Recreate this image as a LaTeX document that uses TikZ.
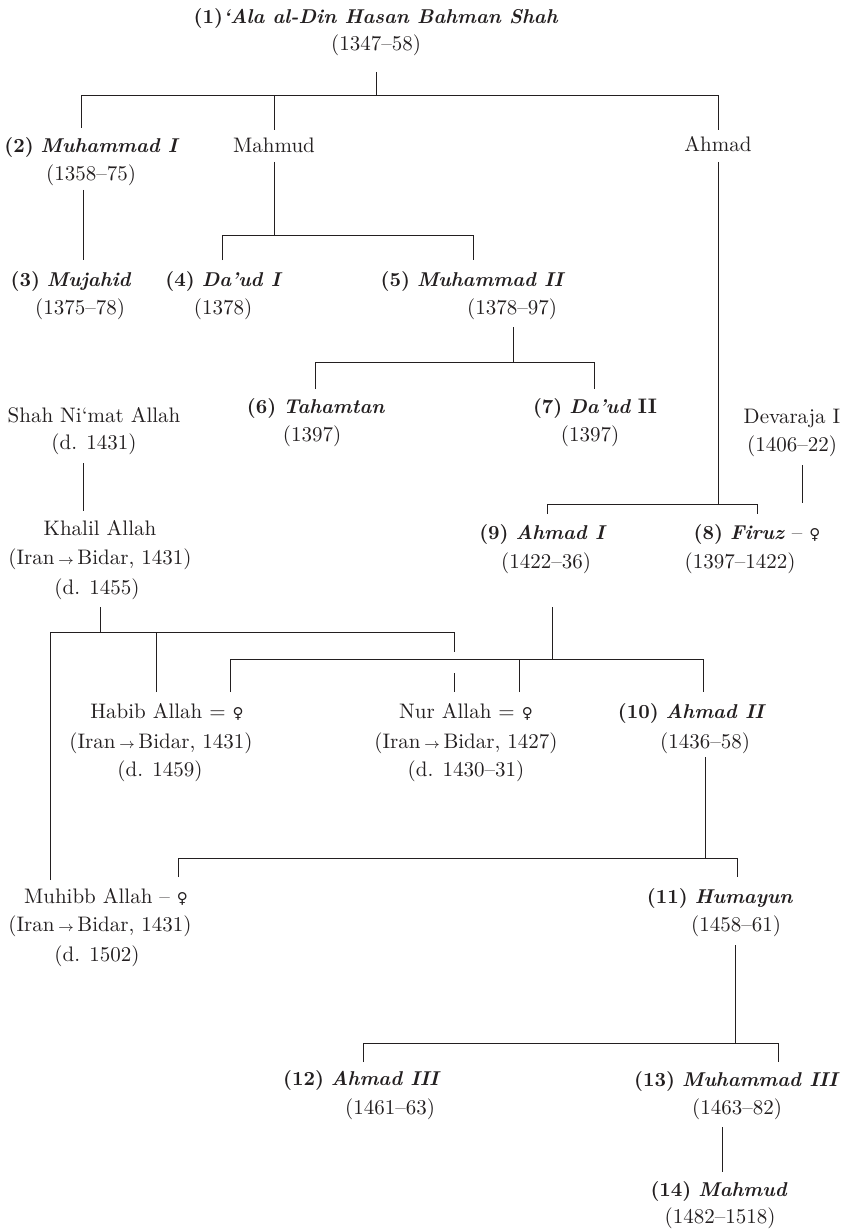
\documentclass[tikz,border=0pt]{standalone}
\usepackage{fontspec}
\newfontfamily\symbfont{DejaVu Sans}
\definecolor{ink}{HTML}{231F20}
\newcommand{\rno}[1]{{\fontsize{10}{12}\selectfont\textbf{(#1)}}}
\newcommand{\kname}[1]{{\fontsize{10}{12}\selectfont\textbf{\textit{#1}}}}
\newcommand{\fem}{{\symbfont\fontsize{7.5}{9}\selectfont ♀}}
\newcommand{\toward}{\,$\scriptstyle\rightarrow$\,}

\begin{document}
\begin{tikzpicture}[x=0.5pt, y=-0.5pt,
  who/.style={anchor=base, inner sep=0pt, text=ink, font=\fontsize{10.5}{12}\selectfont},
  kin/.style={draw=ink, line width=0.5pt}]

\useasboundingbox (0,0) rectangle (843,1230);

\node[who] (root) at (376,24) {\rno{1}\kname{‘Ala al-Din Hasan Bahman Shah}};
\node[who] (root-d) at (376,51) {(1347–58)};

\node[who] (muh1) at (92,153) {\rno{2} \kname{Muhammad I}};
\node[who] (muh1-d) at (91,181) {(1358–75)};
\node[who] (mahmud) at (274,153) {Mahmud};
\node[who] (ahmad) at (718,152) {Ahmad};

\node[who] (mujahid) at (71,286) {\rno{3} \kname{Mujahid}};
\node[who] (mujahid-d) at (80,314) {(1375–78)};
\node[who] (daud1) at (224,286) {\rno{4} \kname{Da’ud I}};
\node[who] (daud1-d) at (223,314) {(1378)};
\node[who] (muh2) at (473,286) {\rno{5} \kname{Muhammad II}};
\node[who] (muh2-d) at (512,314) {(1378–97)};

\node[who] (taham) at (316,413) {\rno{6} \kname{Tahamtan}};
\node[who] (taham-d) at (312,441) {(1397)};
\node[who] (daud2) at (595,413) {\rno{7} \kname{Da’ud} \textbf{II}};
\node[who] (daud2-d) at (590,441) {(1397)};
\node[who] (shah) at (94,422) {Shah Ni‘mat Allah};
\node[who] (shah-d) at (94,449) {(d. 1431)};
\node[who] (deva) at (792,423) {Devaraja I};
\node[who] (deva-d) at (792,451) {(1406–22)};

\node[who] (khalil) at (100,535) {Khalil Allah};
\node[who] (khalil-m) at (100,564) {(Iran\toward Bidar, 1431)};
\node[who] (khalil-d) at (97,594) {(d. 1455)};
\node[who] (ahmad1) at (543,539) {\rno{9} \kname{Ahmad I}};
\node[who] (ahmad1-d) at (546,568) {(1422–36)};
\node[who] (firuz) at (757,539) {\rno{8} \kname{Firuz} – \fem};
\node[who] (firuz-d) at (740,568) {(1397–1422)};

\node[who] (habib) at (167,718) {Habib Allah = \fem};
\node[who] (habib-m) at (161,748) {(Iran\toward Bidar, 1431)};
\node[who] (habib-d) at (160,776) {(d. 1459)};
\node[who] (nur) at (466,718) {Nur Allah = \fem};
\node[who] (nur-m) at (466,748) {(Iran\toward Bidar, 1427)};
\node[who] (nur-d) at (466,776) {(d. 1430–31)};
\node[who] (ahmad2) at (692,718) {\rno{10} \kname{Ahmad II}};
\node[who] (ahmad2-d) at (705,748) {(1436–58)};

\node[who] (muhibb) at (106,903) {Muhibb Allah – \fem};
\node[who] (muhibb-m) at (100,931) {(Iran\toward Bidar, 1431)};
\node[who] (muhibb-d) at (97,961) {(d. 1502)};
\node[who] (humayun) at (720,903) {\rno{11} \kname{Humayun}};
\node[who] (humayun-d) at (736,931) {(1458–61)};

\node[who] (ahmad3) at (362,1085) {\rno{12} \kname{Ahmad III}};
\node[who] (ahmad3-d) at (390,1114) {(1461–63)};
\node[who] (muh3) at (737,1086) {\rno{13} \kname{Muhammad III}};
\node[who] (muh3-d) at (737,1114) {(1463–82)};
\node[who] (mahmud14) at (719,1196) {\rno{14} \kname{Mahmud}};
\node[who] (mahmud14-d) at (720,1223) {(1482–1518)};

\coordinate (p1) at (376,72);
\coordinate (b1) at (376,96);
\coordinate (k1a) at (81,128);
\coordinate (k1b) at (274,130);
\coordinate (k1c) at (718,130);
\draw[kin] (p1) -- (b1);
\draw[kin] (k1a) -- (k1a |- b1) -- (k1c |- b1) -- (k1c);
\draw[kin] (k1b) -- (k1b |- b1);

\coordinate (p2) at (274,162);
\coordinate (b2) at (274,236);
\coordinate (k2a) at (222,260);
\coordinate (k2b) at (473,260);
\draw[kin] (p2) -- (b2);
\draw[kin] (k2a) -- (k2a |- b2) -- (k2b |- b2) -- (k2b);

\coordinate (t3) at (83,190);
\coordinate (k3) at (83,260);
\draw[kin] (t3) -- (k3);

\coordinate (p4) at (513,327);
\coordinate (b4) at (513,362);
\coordinate (k4a) at (315,389);
\coordinate (k4b) at (594,389);
\draw[kin] (p4) -- (b4);
\draw[kin] (k4a) -- (k4a |- b4) -- (k4b |- b4) -- (k4b);

\coordinate (p5) at (718,162);
\coordinate (b5) at (718,504);
\coordinate (k5a) at (547,514);
\coordinate (k5b) at (757,514);
\draw[kin] (p5) -- (b5);
\draw[kin] (k5a) -- (k5a |- b5) -- (k5b |- b5) -- (k5b);

\coordinate (t6) at (802,465);
\coordinate (k6) at (802,503);
\draw[kin] (t6) -- (k6);

\coordinate (t7) at (83,463);
\coordinate (k7) at (83,511);
\draw[kin] (t7) -- (k7);

\coordinate (p8) at (100,607);
\coordinate (b8) at (100,632);
\coordinate (k8a) at (50,880);
\coordinate (k8b) at (156,692);
\coordinate (k8c) at (454,692);
\coordinate (g8a) at (454,652);
\coordinate (g8b) at (454,673);
\draw[kin] (p8) -- (b8);
\draw[kin] (k8a) -- (k8a |- b8) -- (g8a |- b8) -- (g8a);
\draw[kin] (g8b) -- (k8c);
\draw[kin] (k8b) -- (k8b |- b8);

\coordinate (p9) at (552,607);
\coordinate (b9) at (552,659);
\coordinate (k9a) at (230,692);
\coordinate (k9b) at (519,692);
\coordinate (k9c) at (703,692);
\draw[kin] (p9) -- (b9);
\draw[kin] (k9a) -- (k9a |- b9) -- (k9c |- b9) -- (k9c);
\draw[kin] (k9b) -- (k9b |- b9);

\coordinate (p10) at (705,757);
\coordinate (b10) at (705,858);
\coordinate (k10a) at (178,877);
\coordinate (k10b) at (737,877);
\draw[kin] (p10) -- (b10);
\draw[kin] (k10a) -- (k10a |- b10) -- (k10b |- b10) -- (k10b);

\coordinate (p11) at (735,945);
\coordinate (b11) at (735,1043);
\coordinate (k11a) at (363,1062);
\coordinate (k11b) at (778,1062);
\draw[kin] (p11) -- (b11);
\draw[kin] (k11a) -- (k11a |- b11) -- (k11b |- b11) -- (k11b);

\coordinate (t12) at (722,1127);
\coordinate (k12) at (722,1172);
\draw[kin] (t12) -- (k12);

\end{tikzpicture}
\end{document}
